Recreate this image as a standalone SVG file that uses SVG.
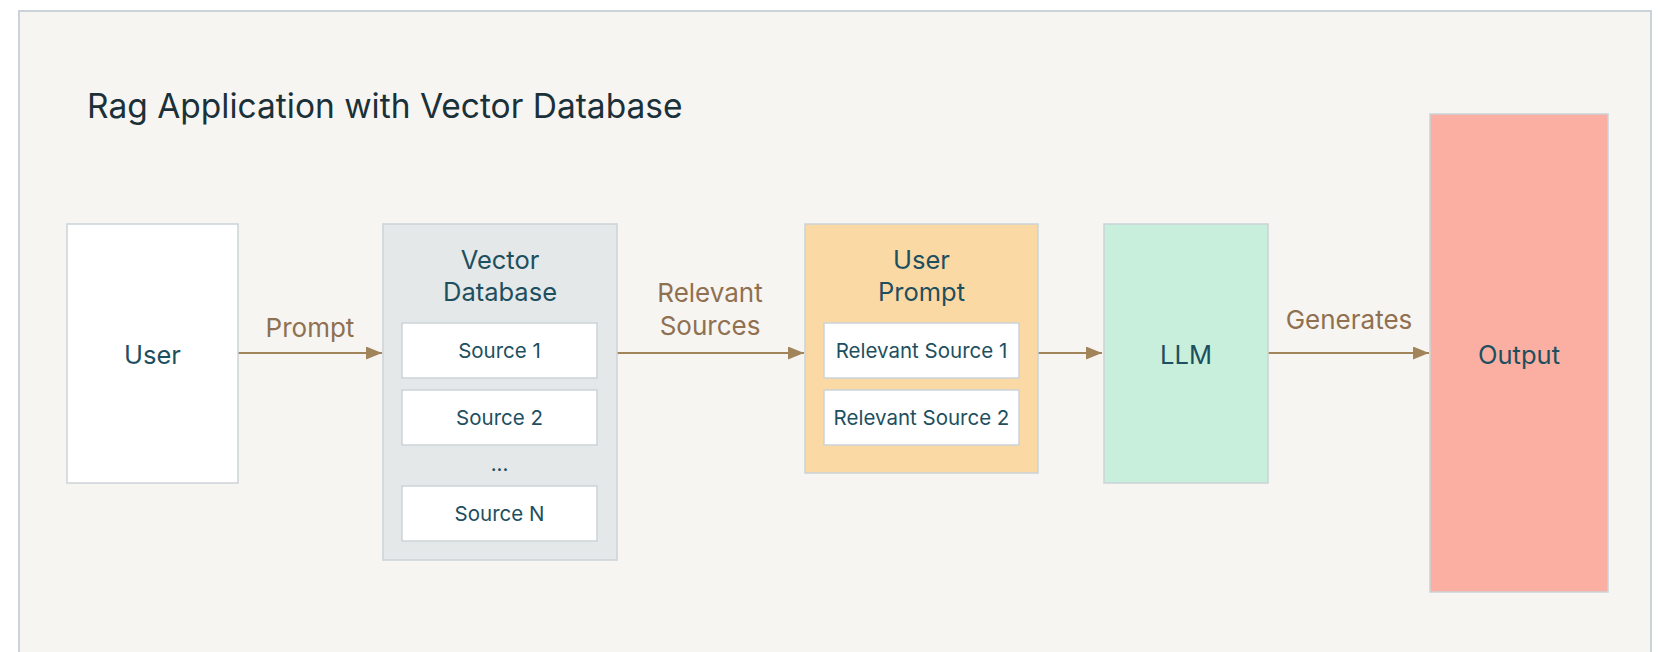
<svg xmlns="http://www.w3.org/2000/svg" width="1659" height="652" viewBox="0 0 1659 652">
  <style>
    .frame { fill: #f7f5f2; stroke: #cbd2d8; stroke-width: 2; }
    .box { stroke: #cbd3d8; stroke-width: 1.5; }
    .title { font-family: Inter, "Liberation Sans", sans-serif; font-size: 33.5px; fill: #1b3139; }
    .node { font-family: Inter, "Liberation Sans", sans-serif; font-size: 25.5px; fill: #1d4f5f; text-anchor: middle; dominant-baseline: central; }
    .item { font-family: Inter, "Liberation Sans", sans-serif; font-size: 20.5px; fill: #1d4f5f; text-anchor: middle; dominant-baseline: central; }
    .edge-label { font-family: Inter, "Liberation Sans", sans-serif; font-size: 26px; fill: #8f7050; text-anchor: middle; dominant-baseline: central; }
    .edge { stroke: #a2845a; stroke-width: 2; fill: none; marker-end: url(#arrow); }
  </style>
  <defs>
    <marker id="arrow" viewBox="0 0 16 13" refX="16" refY="6.5" markerWidth="16" markerHeight="13" markerUnits="userSpaceOnUse" orient="auto">
      <path d="M0,0 L16,6.5 L0,13 Z" fill="#a2845a"/>
    </marker>
  </defs>

  <rect width="1659" height="652" fill="#ffffff"/>
  <rect class="frame" x="19" y="11" width="1632" height="660"/>

  <text class="title" x="87" y="118">Rag Application with Vector Database</text>

  <g id="connectors">
    <line class="edge" x1="238" y1="353" x2="382" y2="353"/>
    <text class="edge-label" x="310" y="327">Prompt</text>

    <line class="edge" x1="617" y1="353" x2="804" y2="353"/>
    <text class="edge-label" x="710" y="292">Relevant</text>
    <text class="edge-label" x="710" y="325">Sources</text>

    <line class="edge" x1="1038" y1="353" x2="1102" y2="353"/>

    <line class="edge" x1="1268" y1="353" x2="1429" y2="353"/>
    <text class="edge-label" x="1349" y="319">Generates</text>
  </g>

  <g id="user">
    <rect class="box" x="67" y="224" width="171" height="259" fill="#ffffff"/>
    <text class="node" x="152.5" y="354">User</text>
  </g>

  <g id="vector-database">
    <rect class="box" x="383" y="224" width="234" height="336" fill="#e5e8e8"/>
    <text class="node" x="500" y="259">Vector</text>
    <text class="node" x="500" y="291">Database</text>
    <g id="source-1">
      <rect class="box" x="402" y="323" width="195" height="55" fill="#ffffff"/>
      <text class="item" x="499.5" y="350.5">Source 1</text>
    </g>
    <g id="source-2">
      <rect class="box" x="402" y="390" width="195" height="55" fill="#ffffff"/>
      <text class="item" x="499.5" y="417.5">Source 2</text>
    </g>
    <text class="item" x="499.5" y="463">...</text>
    <g id="source-n">
      <rect class="box" x="402" y="486" width="195" height="55" fill="#ffffff"/>
      <text class="item" x="499.5" y="513.5">Source N</text>
    </g>
  </g>

  <g id="user-prompt">
    <rect class="box" x="805" y="224" width="233" height="249" fill="#fbd9a5"/>
    <text class="node" x="921.5" y="259">User</text>
    <text class="node" x="921.5" y="291">Prompt</text>
    <g id="relevant-source-1">
      <rect class="box" x="824" y="323" width="195" height="55" fill="#ffffff"/>
      <text class="item" x="921.5" y="350.5">Relevant Source 1</text>
    </g>
    <g id="relevant-source-2">
      <rect class="box" x="824" y="390" width="195" height="55" fill="#ffffff"/>
      <text class="item" x="921.5" y="417.5">Relevant Source 2</text>
    </g>
  </g>

  <g id="llm">
    <rect class="box" x="1104" y="224" width="164" height="259" fill="#c7efdc"/>
    <text class="node" x="1186" y="354">LLM</text>
  </g>

  <g id="output">
    <rect class="box" x="1430" y="114" width="178" height="478" fill="#fbafa3"/>
    <text class="node" x="1519" y="354">Output</text>
  </g>
</svg>
